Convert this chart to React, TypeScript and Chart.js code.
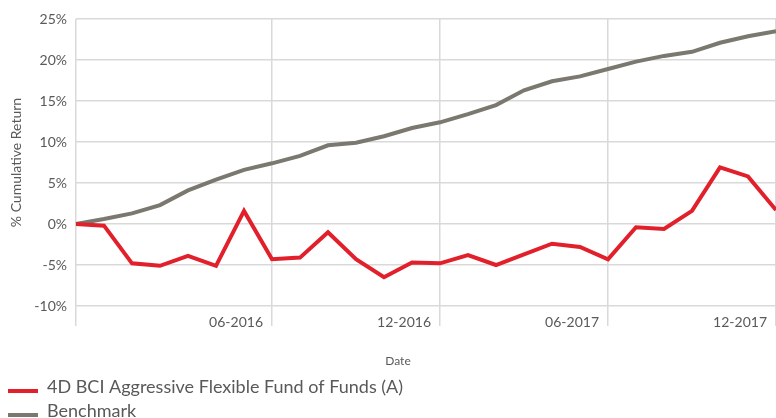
import React, { useEffect, useRef } from 'react';
import { Chart, registerables } from 'chart.js';

Chart.register(...registerables);

const dates = [
  '11-2015', '12-2015', '01-2016', '02-2016', '03-2016', '04-2016', '05-2016',
  '06-2016', '07-2016', '08-2016', '09-2016', '10-2016', '11-2016', '12-2016',
  '01-2017', '02-2017', '03-2017', '04-2017', '05-2017', '06-2017', '07-2017',
  '08-2017', '09-2017', '10-2017', '11-2017', '12-2017',
];
const xTickLabels = ['06-2016', '12-2016', '06-2017', '12-2017'];

const fundName = '4D BCI Aggressive Flexible Fund of Funds (A)';
const fundValues = [
  0, -0.2, -4.8, -5.1, -3.9, -5.1, 1.6, -4.3, -4.1, -1.0, -4.3, -6.5, -4.7,
  -4.8, -3.8, -5.0, -3.7, -2.4, -2.8, -4.3, -0.4, -0.6, 1.6, 6.9, 5.8, 1.7,
];
const benchmarkName = 'Benchmark';
const benchmarkValues = [
  0, 0.6, 1.3, 2.3, 4.1, 5.4, 6.6, 7.4, 8.3, 9.6, 9.9, 10.7, 11.7,
  12.4, 13.4, 14.5, 16.3, 17.4, 18.0, 18.9, 19.8, 20.5, 21.0, 22.1, 22.9, 23.5,
];
const yTitle = '% Cumulative Return';
const xTitle = 'Date';

const RED = '#e1202b';
const GREY = '#7b786f';
const GRID = '#d9d9d9';
const TEXT = '#595959';

const isShownTick = (i: number) => i === 0 || xTickLabels.includes(dates[i]);

const extraPlugin = {
  id: 'extraLegend',
  afterDraw(chart: any) {
    const ctx = chart.ctx;
    ctx.save();
    ctx.font = '12px Lato';
    ctx.fillStyle = TEXT;
    ctx.textAlign = 'center';
    ctx.textBaseline = 'middle';
    ctx.fillText(xTitle, 398, 361);
    chart.data.datasets.forEach((ds: any, i: number) => {
      const y = 391 + i * 24;
      ctx.fillStyle = ds.borderColor;
      ctx.fillRect(8, y - 2, 30, 4);
      ctx.font = '18px Lato';
      ctx.fillStyle = TEXT;
      ctx.textAlign = 'left';
      ctx.textBaseline = 'alphabetic';
      ctx.fillText(ds.label, 47, y + 2);
    });
    ctx.restore();
  },
};

export default function App() {
  const ref = useRef<HTMLCanvasElement>(null);
  useEffect(() => {
    if (!ref.current) return;
    Chart.defaults.font.family = 'Lato';
    Chart.defaults.color = TEXT;
    const chart = new Chart(ref.current, {
      type: 'line',
      data: {
        labels: dates,
        datasets: [
          {
            label: fundName,
            data: fundValues,
            borderColor: RED,
            backgroundColor: RED,
            borderWidth: 4,
            pointRadius: 0,
            tension: 0,
          },
          {
            label: benchmarkName,
            data: benchmarkValues,
            borderColor: GREY,
            backgroundColor: GREY,
            borderWidth: 4,
            pointRadius: 0,
            tension: 0,
          },
        ],
      },
      options: {
        responsive: false,
        animation: false,
        devicePixelRatio: 1,
        layout: { padding: { top: 19, right: 0, left: 0, bottom: 0 } },
        plugins: { legend: { display: false }, tooltip: { enabled: false } },
        scales: {
          x: {
            type: 'category',
            offset: false,
            afterFit: (s: any) => { s.height = 112; },
            grid: {
              color: (c: any) => (isShownTick(c.index) ? GRID : 'rgba(0,0,0,0)'),
              lineWidth: 1.5,
              tickLength: 20,
              drawTicks: true,
            },
            border: { display: false },
            ticks: {
              autoSkip: false,
              maxRotation: 0,
              align: 'end',
              labelOffset: -9,
              padding: -12,
              font: { size: 14 },
              color: TEXT,
              callback: (_v: any, i: number) => (xTickLabels.includes(dates[i]) ? dates[i] : ''),
            },
          },
          y: {
            min: -10,
            max: 25,
            afterFit: (s: any) => { s.width = 76; },
            grid: { color: GRID, lineWidth: 1.5, drawTicks: false },
            border: { display: false },
            ticks: {
              stepSize: 5,
              padding: 9,
              font: { size: 14 },
              color: TEXT,
              callback: (v: any) => `${v}%`,
            },
            title: {
              display: true,
              text: yTitle,
              font: { size: 14 },
              color: TEXT,
              padding: { top: 8, bottom: 0 },
            },
          },
        },
      },
      plugins: [extraPlugin],
    } as any);
    return () => chart.destroy();
  }, []);
  return (
    <div style={{ position: 'absolute', left: 0, top: 0, width: 776, height: 418, background: '#fff' }}>
      <canvas ref={ref} width={776} height={418} />
    </div>
  );
}
